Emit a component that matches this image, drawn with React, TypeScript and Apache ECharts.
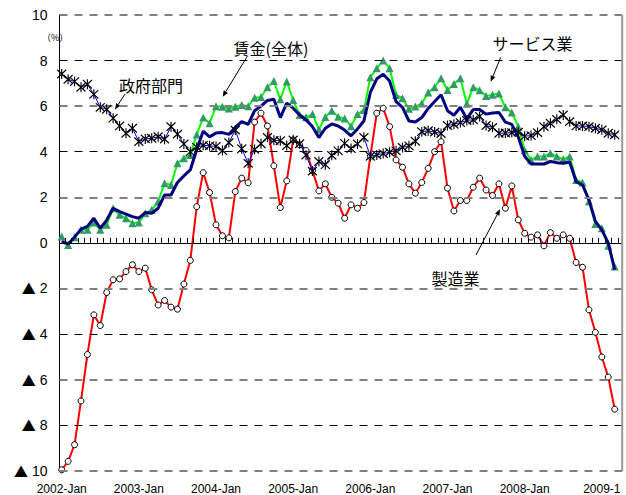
import React, { useEffect, useRef } from 'react';
import * as echarts from 'echarts';

// Monthly categories 2002-01 .. 2009-03
const months: string[] = [];
for (let y = 2002; y <= 2009; y++) {
  for (let m = 1; m <= 12; m++) {
    if (y === 2009 && m > 3) break;
    months.push(`${y}-${String(m).padStart(2, '0')}`);
  }
}

const xLabelIndex = [0, 12, 24, 36, 48, 60, 72, 84];
const xLabelTexts = ['2002-Jan', '2003-Jan', '2004-Jan', '2005-Jan', '2006-Jan', '2007-Jan', '2008-Jan', '2009-1'];

const yMin = -10;
const yMax = 10;
const yStep = 2;
const blackGridValues = [-8, -4, 4, 8];
const grayGridValues = [-10, -6, -2, 2, 6, 10];

// 賃金（全体）
const wage = [
  0.05, -0.05, 0.25, 0.6, 0.72, 1.08, 0.64, 1.0, 1.52, 1.37, 1.26, 1.15,
  1.08, 1.33, 1.3, 1.52, 2.1, 2.1, 2.65, 2.94, 3.2, 4.1, 4.9, 4.65,
  4.82, 4.84, 4.76, 5.07, 5.32, 5.2, 5.8, 6.0, 6.25, 6.3, 5.5, 6.13,
  5.91, 5.61, 5.39, 5.1, 4.62, 5.03, 5.22, 5.13, 4.95, 4.7, 5.0, 5.35,
  6.6, 7.2, 7.4, 7.1, 6.2, 5.95, 5.35, 5.3, 5.5, 5.9, 6.2, 6.5,
  5.8, 5.6, 5.95, 5.45, 5.85, 5.85, 5.65, 5.7, 5.72, 5.3, 5.2, 4.65,
  3.8, 3.46, 3.46, 3.46, 3.57, 3.52, 3.49, 3.55, 2.69, 2.54, 1.89, 0.94,
  0.57, 0.0, -1.18,
];

// サービス業
const service = [
  0.28, -0.09, 0.25, 0.57, 0.57, 0.89, 0.57, 0.79, 1.52, 1.23, 1.08, 0.86,
  0.89, 1.3, 1.45, 1.81, 2.62, 2.54, 3.49, 3.71, 3.86, 4.75, 5.5, 5.25,
  6.0, 5.97, 5.9, 5.97, 6.05, 6.0, 6.37, 6.4, 6.83, 7.1, 6.3, 7.08,
  6.27, 5.61, 5.51, 5.65, 4.98, 5.52, 5.8, 5.53, 5.46, 5.12, 5.65, 5.83,
  7.27, 7.66, 8.0, 7.66, 6.49, 6.35, 5.88, 5.98, 6.12, 6.6, 6.83, 7.22,
  6.71, 6.97, 7.22, 6.1, 6.83, 6.7, 6.45, 6.5, 6.55, 5.95, 5.72, 5.1,
  4.06, 3.64, 3.79, 3.79, 3.93, 3.79, 3.67, 3.79, 2.76, 2.65, 1.81, 0.83,
  0.64, -0.13, -1.04,
];

// 政府部門
const government = [
  7.41, 7.18, 7.08, 6.83, 6.96, 6.52, 5.95, 5.86, 5.47, 5.13, 4.81, 5.03,
  4.44, 4.56, 4.59, 4.66, 4.55, 5.1, 4.77, 4.34, 4.0, 4.2, 4.28, 4.26,
  4.23, 4.05, 4.4, 4.95, 4.13, 3.49, 4.1, 4.35, 4.63, 4.5, 4.48, 4.27,
  4.52, 4.35, 3.85, 3.15, 3.57, 3.43, 3.84, 4.04, 4.37, 4.14, 4.34, 4.63,
  3.8, 3.86, 3.92, 3.98, 4.04, 4.19, 4.26, 4.46, 4.88, 4.92, 4.86, 4.8,
  5.15, 5.2, 5.28, 5.37, 5.4, 5.55, 5.15, 5.07, 4.81, 4.82, 4.84, 4.86,
  4.68, 4.71, 4.84, 5.1, 5.25, 5.42, 5.61, 5.32, 5.13, 5.13, 5.1, 5.03,
  4.96, 4.81, 4.74,
];

// 製造業
const manufacturing = [
  -9.96, -9.59, -8.86, -6.94, -4.9, -3.16, -3.63, -2.18, -1.62, -1.58, -1.26, -0.96,
  -1.26, -1.11, -2.06, -2.73, -2.53, -2.82, -2.91, -1.81, -0.77, 1.59, 3.08, 2.21,
  0.79, 0.31, 0.22, 2.25, 2.84, 2.64, 5.3, 5.69, 5.13, 3.38, 1.55, 2.72,
  4.52, 4.3, 4.05, 3.17, 2.28, 2.59, 2.0, 1.74, 1.08, 1.67, 1.52, 1.77,
  3.8, 5.69, 5.91, 5.1, 3.64, 3.32, 2.59, 2.18, 2.65, 3.27, 4.0, 4.44,
  2.4, 1.4, 1.86, 1.86, 2.44, 2.84, 2.32, 2.08, 2.59, 1.52, 2.5, 1.01,
  0.42, 0.25, 0.35, -0.13, 0.45, 0.2, 0.35, 0.2, -0.86, -1.07, -2.94, -3.93,
  -5.01, -5.89, -7.3,
];

const FONT = '"Noto Sans CJK JP", "Liberation Sans", sans-serif';
const AXIS_FONT = '"Liberation Sans", "Noto Sans CJK JP", sans-serif';

function arrow(x1: number, y1: number, x2: number, y2: number) {
  const dx = x2 - x1;
  const dy = y2 - y1;
  const len = Math.sqrt(dx * dx + dy * dy);
  const ux = dx / len;
  const uy = dy / len;
  const hl = 6;
  const hw = 2.5;
  const bx = x2 - ux * hl;
  const by = y2 - uy * hl;
  return [
    {
      type: 'line',
      shape: { x1, y1, x2: bx, y2: by },
      style: { stroke: '#000', lineWidth: 1 },
      silent: true,
    },
    {
      type: 'polygon',
      shape: {
        points: [
          [x2, y2],
          [bx - uy * hw, by + ux * hw],
          [bx + uy * hw, by - ux * hw],
        ],
      },
      style: { fill: '#000' },
      silent: true,
    },
  ];
}

function label(text: string, cx: number, cy: number, size = 16) {
  return {
    type: 'text',
    x: cx,
    y: cy,
    style: {
      text,
      fontSize: size,
      fontFamily: FONT,
      fill: '#000',
      align: 'center',
      verticalAlign: 'middle',
    },
    silent: true,
  };
}

const gridLeft = 59.5;
const gridTop = 15;
const gridRight = 3.8;
const gridBottom = 24.3;
// first point at 61.7px, spacing 6.43 px per month
const xMin = (gridLeft - 61.7) / 6.43;
const xMax = (626 - gridRight - 61.7) / 6.43;

export default function App() {
  const ref = useRef<HTMLDivElement>(null);

  useEffect(() => {
    if (!ref.current) return;
    const chart = echarts.init(ref.current, undefined, { renderer: 'svg' });

    const toPairs = (arr: number[]) => arr.map((v, i) => [i, v]);
    const tickVals: number[] = [];
    for (let i = 0; i <= months.length; i++) tickVals.push(i - 0.5);

    const markLineData = [
      ...grayGridValues.map((v) => ({
        yAxis: v,
        lineStyle: { color: '#808080', width: 2, type: [8, 7] },
      })),
      ...blackGridValues.map((v) => ({
        yAxis: v,
        lineStyle: { color: '#000000', width: 1, type: [8, 7] },
      })),
    ];

    const option: any = {
      animation: false,
      backgroundColor: '#fff',
      grid: { left: gridLeft, top: gridTop, right: gridRight, bottom: gridBottom, containLabel: false },
      xAxis: [
        {
          type: 'value',
          min: xMin,
          max: xMax,
          axisLine: { show: true, onZero: true, lineStyle: { color: '#000', width: 1 } },
          axisTick: { show: true, inside: true, length: 5, customValues: tickVals, lineStyle: { color: '#000', width: 1 } },
          axisLabel: { show: false },
          splitLine: { show: false },
          z: 10,
        },
        {
          type: 'value',
          min: xMin,
          max: xMax,
          position: 'bottom',
          axisLine: { show: false, onZero: false },
          axisTick: { show: false },
          splitLine: { show: false },
          axisLabel: {
            show: true,
            customValues: xLabelIndex,
            formatter: (v: number) => {
              const k = xLabelIndex.indexOf(Math.round(v));
              return k >= 0 ? xLabelTexts[k] : '';
            },
            fontSize: 12,
            fontFamily: AXIS_FONT,
            color: '#000',
            margin: 12,
          },
        },
      ],
      yAxis: [
        {
          type: 'value',
          min: yMin,
          max: yMax,
          interval: yStep,
          axisLine: { show: true, onZero: false, lineStyle: { color: '#000', width: 1 } },
          axisTick: { show: false },
          splitLine: { show: false },
          axisLabel: {
            fontSize: 14,
            fontFamily: AXIS_FONT,
            color: '#000',
            margin: 12,
            formatter: (v: number) => (v < 0 ? '{tri|▲} ' + Math.abs(v) : String(v)),
            rich: {
              tri: { fontFamily: FONT, fontSize: 14, color: '#000' },
            },
          },
        },
      ],
      series: [
        {
          name: 'grid',
          type: 'line',
          data: [],
          silent: true,
          markLine: {
            silent: true,
            symbol: 'none',
            label: { show: false },
            data: markLineData,
            animation: false,
          },
          z: 1,
        },
        {
          name: 'サービス業',
          type: 'line',
          data: toPairs(service),
          symbol: 'triangle',
          symbolSize: 8,
          showAllSymbol: true,
          lineStyle: { color: '#00FF00', width: 2 },
          itemStyle: { color: '#339966', borderWidth: 0 },
          z: 2,
        },
        {
          name: '賃金(全体)',
          type: 'line',
          data: toPairs(wage),
          symbol: 'none',
          lineStyle: { color: '#000080', width: 3 },
          itemStyle: { color: '#000080' },
          z: 3,
        },
        {
          name: '製造業',
          type: 'line',
          data: toPairs(manufacturing),
          symbol: 'circle',
          symbolSize: 6,
          showAllSymbol: true,
          lineStyle: { color: '#FF0000', width: 2 },
          itemStyle: { color: '#FFFFFF', borderColor: '#000000', borderWidth: 1 },
          z: 4,
        },
        {
          name: '政府部門',
          type: 'line',
          data: toPairs(government),
          symbol: 'path://M0,1L10,11M10,1L0,11M5,0L5,12',
          symbolSize: [9, 10],
          showAllSymbol: true,
          lineStyle: { color: '#0000FF', width: 1 },
          itemStyle: { color: 'transparent', borderColor: '#000000', borderWidth: 1.2 },
          z: 5,
        },
      ],
      graphic: [
        {
          type: 'line',
          shape: { x1: 626 - gridRight, y1: gridTop, x2: 626 - gridRight, y2: 495 - gridBottom },
          style: { stroke: '#999', lineWidth: 2 },
          silent: true,
          z: 20,
        },
        {
          type: 'text',
          x: 42,
          y: 37,
          style: { text: '（%）', fontSize: 9, fontFamily: FONT, fill: '#000', verticalAlign: 'middle' },
          silent: true,
        },
        label('政府部門', 151, 85),
        ...arrow(125, 94, 115, 109.5),
        label('賃金(全体)', 271, 47.5),
        ...arrow(246.7, 57.3, 222.7, 96.7),
        label('サービス業', 532.5, 42.5),
        ...arrow(500.7, 57.3, 490.7, 81.7),
        label('製造業', 455.5, 277.5),
        ...arrow(476, 255, 500, 209.3),
      ],
    };

    chart.setOption(option);
    return () => chart.dispose();
  }, []);

  return (
    <div
      ref={ref}
      style={{ position: 'absolute', left: 0, top: 0, width: 626, height: 495, overflow: 'hidden' }}
    />
  );
}
